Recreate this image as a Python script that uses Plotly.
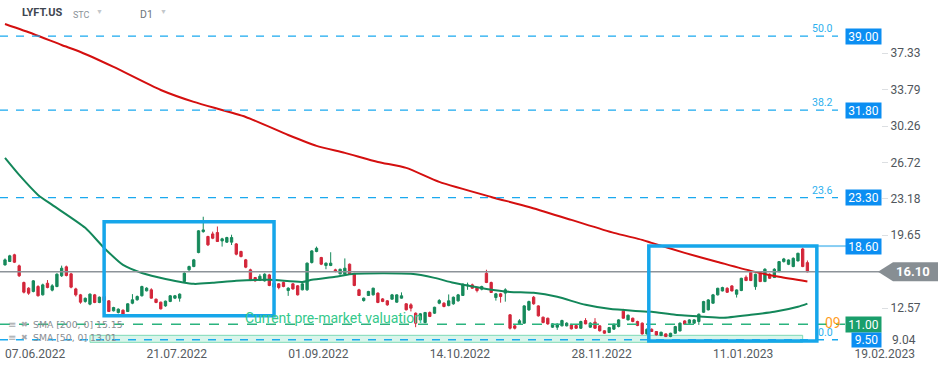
import plotly.graph_objects as go

# ---------------- data ----------------
opens = [16.77, 17.10, 17.75, 16.68, 15.06, 14.51, 14.19, 14.67, 13.86, 14.99,
         14.32, 14.67, 15.71, 16.58, 15.90, 14.44, 13.86, 13.22, 12.96, 13.86,
         13.12, 13.70, 13.28, 12.31, 12.15, 12.37, 12.24, 13.05, 13.38, 13.77,
         14.25, 14.35, 13.44, 13.15, 12.79, 13.22, 13.54, 13.54, 15.16, 16.29,
         16.61, 17.97, 20.00, 19.53, 19.78, 19.91, 19.10, 18.98, 18.98, 18.81,
         18.07, 17.26, 16.29, 15.54, 15.29, 15.22, 15.80, 14.61, 14.93, 15.06,
         14.28, 14.93, 14.74, 14.35, 14.35, 17.00, 18.07, 17.49, 16.71, 16.71,
         16.29, 15.90, 15.87, 16.84, 15.90, 14.35, 13.31, 13.80, 13.86, 14.03,
         13.47, 13.28, 13.44, 13.15, 13.54, 12.99, 12.89, 12.08, 11.43, 11.17,
         12.15, 12.08, 13.05, 13.05, 12.82, 12.99, 13.28, 13.80, 14.74, 14.83,
         14.57, 14.41, 15.96, 15.06, 13.60, 13.96, 14.03, 11.92, 10.85, 11.05,
         11.11, 12.40, 13.63, 12.79, 11.69, 11.59, 10.72, 10.72, 10.85, 10.85,
         10.95, 10.88, 10.62, 11.37, 10.72, 11.21, 10.85, 10.37, 10.20, 10.53,
         10.79, 12.28, 11.43, 11.59, 11.27, 11.11, 10.07, 10.52, 10.30, 9.91,
         10.07, 9.81, 10.13, 10.36, 11.33, 11.11, 11.11, 11.27, 12.17, 12.40,
         13.05, 13.86, 14.24, 14.50, 14.73, 13.92, 14.28, 15.57, 16.02, 14.66,
         16.02, 15.15, 15.86, 15.54, 16.12, 17.09, 16.83, 16.61, 17.16, 18.32,
         16.99]
highs = [17.40, 17.75, 17.85, 16.80, 15.15, 14.60, 15.30, 14.80, 14.95, 15.30,
         14.90, 15.95, 16.70, 16.70, 16.00, 14.55, 13.95, 13.60, 14.00, 13.95,
         13.70, 13.80, 13.35, 12.70, 12.55, 12.45, 13.05, 13.93, 13.80, 14.75,
         14.60, 14.50, 13.50, 13.20, 13.30, 13.85, 13.85, 14.00, 16.05, 16.70,
         17.35, 20.15, 21.45, 19.60, 20.00, 20.50, 19.40, 19.50, 19.70, 18.90,
         18.15, 17.35, 16.40, 15.60, 15.87, 15.95, 15.90, 15.05, 15.00, 15.15,
         14.60, 15.00, 14.80, 15.00, 17.00, 18.20, 18.55, 17.55, 17.00, 18.00,
         16.40, 16.40, 17.40, 16.90, 16.00, 14.45, 13.60, 14.25, 14.55, 14.10,
         13.55, 13.35, 13.95, 13.90, 14.10, 13.05, 13.05, 12.15, 12.10, 12.20,
         12.25, 12.70, 13.45, 13.15, 13.90, 13.70, 13.95, 14.95, 15.05, 14.95,
         14.65, 14.75, 16.30, 15.15, 14.05, 14.05, 14.50, 12.00, 11.00, 11.50,
         12.85, 13.30, 13.75, 12.85, 11.75, 11.65, 11.10, 11.10, 11.45, 11.20,
         11.05, 10.95, 11.35, 11.60, 11.20, 11.60, 10.90, 10.42, 10.75, 11.05,
         11.50, 12.50, 11.95, 11.65, 11.35, 11.18, 10.60, 10.60, 10.35, 10.28,
         10.12, 10.18, 10.85, 11.18, 11.40, 11.50, 11.50, 12.05, 13.28, 13.45,
         13.95, 14.55, 14.65, 14.60, 14.80, 14.40, 15.52, 15.75, 16.10, 15.92,
         16.10, 16.45, 15.95, 16.45, 17.15, 17.45, 17.30, 17.50, 17.95, 18.45,
         17.20]
lows = [16.70, 17.05, 16.95, 15.60, 14.00, 13.86, 14.10, 13.70, 13.80, 14.50,
        14.20, 14.60, 15.60, 15.65, 14.50, 13.70, 13.00, 13.10, 12.85, 13.05,
        13.05, 13.20, 12.20, 12.25, 12.05, 11.95, 12.20, 12.95, 13.30, 13.70,
        14.20, 13.50, 13.05, 12.45, 12.70, 13.15, 13.45, 13.20, 15.10, 16.20,
        16.55, 17.90, 19.90, 18.60, 19.27, 19.00, 18.55, 18.90, 18.70, 17.70,
        17.50, 16.45, 15.20, 15.15, 15.20, 15.15, 14.70, 14.55, 14.40, 14.60,
        13.76, 14.35, 13.80, 14.30, 14.25, 16.90, 18.00, 16.75, 16.35, 16.65,
        16.05, 15.85, 15.80, 15.80, 14.70, 13.75, 13.20, 13.75, 13.80, 13.05,
        13.15, 12.80, 13.40, 13.10, 13.50, 12.35, 12.25, 10.72, 11.35, 11.10,
        11.70, 12.00, 12.95, 12.65, 12.75, 12.90, 13.20, 13.75, 14.35, 14.45,
        14.10, 14.30, 15.00, 14.05, 13.30, 13.10, 13.20, 10.50, 10.50, 10.95,
        11.05, 12.30, 12.90, 11.75, 11.10, 10.95, 10.65, 10.46, 10.80, 10.80,
        10.50, 10.55, 10.55, 11.00, 10.65, 10.55, 10.30, 10.08, 10.15, 10.45,
        10.70, 11.55, 11.38, 11.20, 10.82, 10.00, 10.00, 10.25, 9.92, 9.85,
        9.76, 9.75, 10.08, 10.30, 10.95, 11.05, 11.05, 10.94, 12.10, 12.35,
        13.00, 13.80, 14.20, 14.05, 14.20, 13.60, 14.22, 15.20, 15.20, 14.35,
        15.10, 15.10, 15.40, 15.50, 16.05, 17.00, 16.75, 16.55, 17.10, 16.55,
        16.05]
closes = [17.26, 17.65, 17.03, 15.71, 14.12, 14.02, 15.22, 13.77, 14.83, 14.57,
          14.74, 15.87, 16.45, 15.74, 14.61, 13.86, 13.15, 13.53, 13.93, 13.12,
          13.64, 13.30, 12.24, 12.63, 12.47, 11.99, 12.99, 13.38, 13.70, 14.67,
          14.51, 13.54, 13.12, 12.50, 13.25, 13.77, 13.77, 13.93, 15.97, 16.61,
          17.26, 20.08, 20.17, 18.72, 19.36, 19.04, 19.30, 19.43, 19.43, 17.81,
          17.58, 16.55, 15.32, 15.22, 15.67, 15.87, 14.77, 14.99, 14.57, 14.67,
          14.51, 14.44, 13.86, 14.93, 16.94, 18.13, 18.39, 16.84, 16.94, 16.94,
          16.13, 16.35, 16.45, 15.87, 14.77, 13.80, 13.54, 14.19, 14.51, 13.12,
          13.22, 12.89, 13.86, 13.86, 13.77, 12.41, 12.57, 11.11, 12.02, 12.15,
          11.76, 12.66, 13.31, 12.73, 13.28, 13.63, 13.86, 14.90, 14.80, 14.51,
          14.28, 14.67, 15.06, 14.09, 13.96, 13.70, 14.35, 10.62, 10.62, 11.34,
          12.79, 13.21, 12.99, 11.82, 11.17, 11.04, 11.04, 11.01, 11.37, 11.11,
          10.56, 10.62, 11.27, 11.04, 11.11, 10.62, 10.37, 10.14, 10.69, 11.01,
          11.43, 11.59, 11.88, 11.27, 10.88, 10.07, 10.52, 10.30, 9.97, 10.23,
          9.81, 10.13, 10.78, 11.11, 11.01, 11.43, 11.43, 11.98, 13.21, 13.37,
          13.86, 14.50, 14.57, 14.11, 14.24, 14.34, 15.47, 15.25, 15.25, 15.86,
          15.15, 16.35, 15.47, 16.35, 17.09, 17.35, 17.25, 17.41, 17.90, 16.61,
          16.10]

# moving averages read at sample bars
sma200_bar = [0, 6, 12, 16, 23, 33, 40, 51, 60, 66, 72, 79, 85, 92, 103, 111,
              120, 129, 135, 137, 144, 151, 158, 164, 170]
sma200_val = [40.17, 39.20, 38.13, 37.45, 36.00, 33.76, 32.60, 31.14, 29.39,
              28.33, 27.65, 26.77, 26.19, 24.83, 23.37, 22.40, 21.14, 19.88,
              19.20, 18.91, 17.94, 17.06, 16.19, 15.61, 15.15]
sma50_bar = [0, 3, 7, 10, 17, 21, 25, 29, 34, 40, 44, 49, 56, 63, 65, 70, 74,
             86, 91, 95, 102, 107, 112, 117, 123, 128, 133, 137, 142, 148, 152,
             158, 163, 168, 170]
sma50_val = [27.16, 25.51, 23.57, 22.60, 20.37, 18.42, 16.77, 15.99, 15.41,
             14.93, 15.03, 15.22, 15.32, 15.12, 15.32, 15.61, 15.90, 15.90,
             15.51, 15.03, 14.44, 14.15, 14.06, 13.67, 12.89, 12.50, 12.31,
             12.21, 11.92, 11.73, 11.63, 11.92, 12.21, 12.70, 13.01]

date_tick_bar = [0, 30, 60, 90, 120, 150, 180]
date_tick_text = ["07.06.2022", "21.07.2022", "01.09.2022", "14.10.2022",
                  "28.11.2022", "11.01.2023", "19.02.2023"]
price_ticks = [12.57, 19.65, 23.18, 26.72, 30.26, 33.79, 37.33]
bottom_price_tick = 9.04

fib_levels = [39.00, 31.80, 23.30, 9.50]
fib_names = ["50.0", "38.2", "23.6", "0.0"]
last_price = 16.10
premarket_price = 11.00
resistance_price = 18.60
sma200_last = 15.15
sma50_last = 13.01

# highlighted zones: [start bar, end bar, low price, high price]
zone_start = [21.0, 136.4]
zone_end = [57.0, 172.0]
zone_low = [11.82, 9.39]
zone_high = [20.95, 18.60]
band_start, band_end, band_low, band_high = 18.0, 169.0, 9.25, 9.93

# ---------------- figure ----------------
W, H = 949, 370
PLOT_H = 345
BAR_PX = 4.72
X0_PX = 5.0
Y_MIN, Y_MAX = 8.99, 42.50


def px(xpx):
    return xpx / W


def py(ypx):
    return 1 - ypx / PLOT_H


bars = list(range(len(opens)))
fig = go.Figure()

fig.add_trace(go.Scatter(x=sma200_bar, y=sma200_val, mode="lines",
                         line=dict(color="#d40f0f", width=2, shape="spline", smoothing=0.6),
                         hoverinfo="skip", showlegend=False))
fig.add_trace(go.Scatter(x=sma50_bar, y=sma50_val, mode="lines",
                         line=dict(color="#13875a", width=2, shape="spline", smoothing=0.6),
                         hoverinfo="skip", showlegend=False))
fig.add_trace(go.Candlestick(
    x=bars, open=opens, high=highs, low=lows, close=closes,
    increasing=dict(line=dict(color="#16895b", width=1), fillcolor="#16895b"),
    decreasing=dict(line=dict(color="#d3263a", width=1), fillcolor="#d3263a"),
    whiskerwidth=0, showlegend=False))

shapes = []
line_end = px(838)
# light band near the bottom
shapes.append(dict(type="rect", xref="x", yref="y", x0=band_start, x1=band_end,
                   y0=band_low, y1=band_high, fillcolor="#d8f5eb",
                   line=dict(color="#7edab5", width=1), layer="below"))
# fibonacci dashed levels
for lv in fib_levels:
    shapes.append(dict(type="line", xref="paper", yref="y", x0=0, x1=line_end,
                       y0=lv, y1=lv, line=dict(color="#1aa9ef", width=1.3, dash="8px,8px")))
# pre-market level
shapes.append(dict(type="line", xref="paper", yref="y", x0=0, x1=px(845),
                   y0=premarket_price, y1=premarket_price,
                   line=dict(color="#2bb37e", width=1.4, dash="10px,9px")))
# last price line
shapes.append(dict(type="line", xref="paper", yref="y", x0=0, x1=px(880),
                   y0=last_price, y1=last_price, line=dict(color="#8d9399", width=1.4)))
# resistance stub
shapes.append(dict(type="line", xref="paper", yref="y", x0=px(818), x1=px(846),
                   y0=resistance_price, y1=resistance_price,
                   line=dict(color="#86cdf3", width=2)))
# highlighted zones
for a, b, lo, hi in zip(zone_start, zone_end, zone_low, zone_high):
    shapes.append(dict(type="rect", xref="x", yref="y", x0=a, x1=b, y0=lo, y1=hi,
                       line=dict(color="#16a6ea", width=3.5), fillcolor="rgba(0,0,0,0)"))
# last price tag (arrow)
dy = 9.5 / (PLOT_H / (Y_MAX - Y_MIN))
shapes.append(dict(type="path", xref="paper", yref="y",
                   path=(f"M {px(878)} {last_price} L {px(893)} {last_price + dy} "
                         f"L {px(938)} {last_price + dy} L {px(938)} {last_price - dy} "
                         f"L {px(893)} {last_price - dy} Z"),
                   fillcolor="#878e93", line=dict(width=0)))

ann = []
font_base = "Roboto, 'Open Sans', Arial, sans-serif"
# header
ann.append(dict(text="<b>LYFT.US</b>", x=px(20), y=py(13), xref="paper", yref="paper",
                xanchor="left", yanchor="middle", showarrow=False,
                font=dict(size=11, color="#3e4650", family=font_base)))
ann.append(dict(text="STC", x=px(71), y=py(15), xref="paper", yref="paper",
                xanchor="left", yanchor="middle", showarrow=False,
                font=dict(size=9, color="#8b9299", family=font_base)))
ann.append(dict(text="▼", x=px(94), y=py(12), xref="paper", yref="paper",
                xanchor="left", yanchor="middle", showarrow=False,
                font=dict(size=7, color="#c3c7cb", family=font_base)))
ann.append(dict(text="D1", x=px(138), y=py(14), xref="paper", yref="paper",
                xanchor="left", yanchor="middle", showarrow=False,
                font=dict(size=10.5, color="#6d757c", family=font_base)))
ann.append(dict(text="▼", x=px(158), y=py(12), xref="paper", yref="paper",
                xanchor="left", yanchor="middle", showarrow=False,
                font=dict(size=7, color="#c3c7cb", family=font_base)))

# fib labels and price tags
for lv, nm in zip(fib_levels, fib_names):
    ann.append(dict(text=nm, x=px(835), y=lv, xref="paper", yref="y",
                    xanchor="right", yanchor="bottom", yshift=-1, showarrow=False,
                    font=dict(size=10.5, color="#2cb0ee", family=font_base)))
for lv in fib_levels[:3] + [resistance_price]:
    ann.append(dict(text=f"{lv:.2f}", x=px(845), y=lv, xref="paper", yref="y",
                    xanchor="left", yanchor="middle", showarrow=False,
                    bgcolor="#0b8ef2", borderpad=1, width=33, height=13,
                    font=dict(size=12, color="white", family=font_base)))
ann.append(dict(text="09", x=px(823), y=premarket_price, xref="paper", yref="y",
                xanchor="left", yanchor="middle", yshift=1, showarrow=False,
                font=dict(size=14, color="#ff9d1e", family=font_base)))
ann.append(dict(text=f"{premarket_price:.2f}", x=px(845), y=premarket_price,
                xref="paper", yref="y", xanchor="left", yanchor="middle", showarrow=False,
                bgcolor="#1a9e6b", borderpad=1, width=33, height=13,
                font=dict(size=12, color="white", family=font_base)))
ann.append(dict(text=f"{fib_levels[3]:.2f}", x=px(851), y=fib_levels[3],
                xref="paper", yref="y", xanchor="left", yanchor="middle", showarrow=False,
                bgcolor="#0b8ef2", borderpad=1, width=27, height=12,
                font=dict(size=12, color="white", family=font_base)))
ann.append(dict(text=f"<b>{last_price:.2f}</b>", x=px(913), y=last_price,
                xref="paper", yref="y", xanchor="center", yanchor="middle", showarrow=False,
                font=dict(size=13, color="white", family=font_base)))
# lowest price-scale label, nudged up above the date row as in the reference
ann.append(dict(text=f"{bottom_price_tick:.2f}", x=px(890), y=py(340), xref="paper",
                yref="paper", xanchor="left", yanchor="middle", showarrow=False,
                font=dict(size=12, color="#50565c", family=font_base)))

# pre-market text
ann.append(dict(text="Current pre-market valuation", x=px(243), y=premarket_price,
                xref="paper", yref="y", xanchor="left", yanchor="bottom", yshift=-4,
                showarrow=False, font=dict(size=14, color="#34c98c", family=font_base)))

# SMA legend
for txt, yy in [(f"SMA [200, 0] {sma200_last:.2f}", 324),
                (f"SMA [50, 0] {sma50_last:.2f}", 337)]:
    ann.append(dict(text="≡", x=px(6), y=py(yy), xref="paper", yref="paper",
                    xanchor="left", yanchor="middle", showarrow=False,
                    font=dict(size=10, color="#a6a9ac", family="DejaVu Sans")))
    ann.append(dict(text="✖", x=px(19), y=py(yy), xref="paper", yref="paper",
                    xanchor="left", yanchor="middle", showarrow=False,
                    font=dict(size=8, color="#a6a9ac", family="DejaVu Sans")))
    ann.append(dict(text=txt, x=px(31), y=py(yy), xref="paper", yref="paper",
                    xanchor="left", yanchor="middle", showarrow=False,
                    font=dict(size=9.3, color="#8a8e92", family="DejaVu Sans")))

fig.update_layout(
    width=W, height=H,
    margin=dict(l=0, r=0, t=0, b=H - PLOT_H, autoexpand=False),
    paper_bgcolor="white", plot_bgcolor="white",
    showlegend=False,
    shapes=shapes, annotations=ann,
    xaxis=dict(range=[-X0_PX / BAR_PX, (W - X0_PX) / BAR_PX], domain=[0, 1],
               showgrid=False, zeroline=False, showline=False,
               rangeslider=dict(visible=False),
               tickmode="array", tickvals=date_tick_bar, ticktext=date_tick_text,
               ticks="", ticklabelposition="outside right",
               tickfont=dict(size=12, color="#555b61", family=font_base)),
    yaxis=dict(range=[Y_MIN, Y_MAX], side="right", anchor="free", position=881 / W,
               showgrid=False, zeroline=False, showline=False,
               tickmode="array", tickvals=price_ticks,
               ticktext=[f"{v:.2f}" for v in price_ticks],
               ticks="outside", ticklen=6, tickcolor="#dcdfe2",
               tickfont=dict(size=12, color="#50565c", family=font_base)),
)

fig.write_html("out.html",
               config={"displayModeBar": False},
               post_script="document.body.style.margin='0';"
                           "document.body.style.overflow='hidden';")
